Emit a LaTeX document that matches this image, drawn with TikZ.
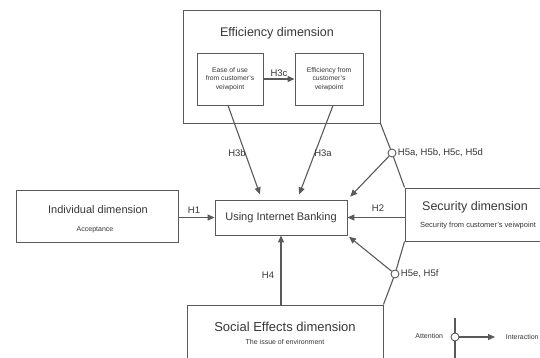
\documentclass[tikz,border=0pt]{standalone}
\usepackage{fontspec}
\setmainfont{Liberation Sans}
\usetikzlibrary{arrows.meta}

\tikzset{
	dimbox/.style={draw=linegray, line width=0.9pt, minimum width=#1},
	linkline/.style={draw=linegray, line width=1.1pt},
	hyparrow/.style={linkline, -{Triangle[length=7pt,width=6pt]}},
	joint/.style={circle, draw=linegray, fill=white, line width=0.9pt, inner sep=0pt, minimum width=7pt, minimum height=8pt},
	hlabel/.style={text=txtgray, font=\fontsize{9.5}{11}\selectfont, inner sep=0.75pt},
	smalltxt/.style={text=txtgray, font=\fontsize{7}{8.4}\selectfont, align=center, inner sep=0.75pt},
	titletxt/.style={text=txtgray, font=\fontsize{12.5}{15}\selectfont, inner sep=0.75pt}
}
\definecolor{linegray}{RGB}{90,90,90}
\definecolor{txtgray}{RGB}{55,55,55}

\begin{document}
\begin{tikzpicture}[x=1pt,y=1pt,yscale=-1,xscale=1]
	\clip (0,0) rectangle (540,358);
	\fill[white] (0,0) rectangle (540,358);
	
	%Shape: Rectangles
	\node [dimbox=197pt, minimum height=113pt] (eff) at (281.5,66.5) {};
	\node [dimbox=66pt, minimum height=52pt] (ease) at (230,79) {};
	\node [dimbox=68pt, minimum height=52pt] (efffrom) at (329,79) {};
	\node [dimbox=132pt, minimum height=35pt] (uib) at (281,217.5) {};
	\node [dimbox=162pt, minimum height=52pt] (indiv) at (97,216) {};
	\node [dimbox=170pt, minimum height=53pt] (secu) at (490,214.5) {};
	\node [dimbox=196pt, minimum height=72pt] (social) at (285,341) {};
	
	% Text Node
	\node [titletxt] (efftitle) at (277,33) {Efficiency dimension};
	\node [smalltxt, font=\fontsize{6.8}{8.6}\selectfont] (easetxt) at (230,79) {Ease of use\\from customer's\\veiwpoint};
	\node [smalltxt, font=\fontsize{6.8}{8.6}\selectfont] (efffromtxt) at (329,79) {Efficiency from\\customer's\\veiwpoint};
	\node [text=txtgray, font=\fontsize{11}{13}\selectfont, inner sep=0.75pt] (uibtxt) at (281,218) {Using Internet Banking};
	\node [text=txtgray, font=\fontsize{11}{13}\selectfont, inner sep=0.75pt] (indivtitle) at (98,210) {Individual dimension};
	\node [smalltxt] (indivsub) at (95,230) {Acceptance};
	\node [titletxt] (secutitle) at (475,207) {Security dimension};
	\node [smalltxt, font=\fontsize{7.5}{9}\selectfont] (secusub) at (478,226) {Security from customer's veiwpoint};
	\node [titletxt, font=\fontsize{13}{15}\selectfont] (socialtitle) at (285,327) {Social Effects dimension};
	\node [smalltxt] (socialsub) at (285,342) {The issue of environment};
	
	%Joints
	\node [joint] (j1) at (392,153) {};
	\node [joint] (j2) at (395,274) {};
	\draw [linkline] (eff.south east) -- (j1) -- (secu.north west);
	\draw [linkline] (secu.south west) -- (j2) -- (social.north east);
	
	%Straight Lines
	\draw [hyparrow] (ease.east) -- (efffrom.west);
	\draw [hyparrow, shorten >=6pt] ([xshift=-2pt]ease.south) -- (262,200);
	\draw [hyparrow, shorten >=6pt] ([xshift=4pt]efffrom.south) -- (297,200);
	\draw [hyparrow, shorten >=4pt] (j1) -- (uib.north east);
	\draw [hyparrow, shorten >=2pt] (j2) -- (uib.south east);
	\draw [hyparrow] (indiv.east |- uib.west) -- (uib.west);
	\draw [hyparrow] (secu.west |- uib.east) -- (uib.east);
	\draw [hyparrow] (social.north -| uib.south) -- (uib.south);
	
	% Text Node
	\node [hlabel] (h3c) at (279,73) {H3c};
	\node [hlabel] (h3b) at (237,153) {H3b};
	\node [hlabel] (h3a) at (323,153) {H3a};
	\node [hlabel] (h1) at (194,210) {H1};
	\node [hlabel] (h2) at (378,208) {H2};
	\node [hlabel] (h4) at (268,275) {H4};
	\node [hlabel, anchor=west] (h5ad) at (397,153) {H5a, H5b, H5c, H5d};
	\node [hlabel, anchor=west] (h5ef) at (400,274) {H5e, H5f};
	
	%Legend
	\node [joint] (lj) at (455,337) {};
	\coordinate (ltop) at (455,318);
	\coordinate (lbot) at (455,360);
	\coordinate (lend) at (495,337);
	\draw [linkline] (ltop) -- (lj) -- (lbot);
	\draw [hyparrow] (lj) -- (lend);
	\node [smalltxt, anchor=east] (attn) at (444,336) {Attention};
	\node [smalltxt, anchor=west] (inter) at (505,337) {Interaction};
	
\end{tikzpicture}
\end{document}
